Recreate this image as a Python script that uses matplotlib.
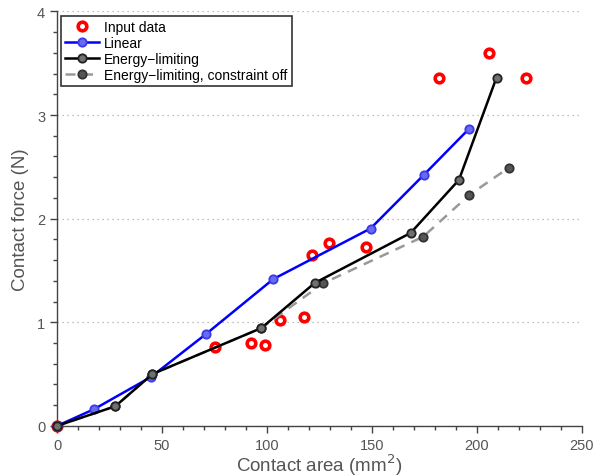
import matplotlib
matplotlib.use('Agg')
import matplotlib.pyplot as plt
from matplotlib.ticker import MultipleLocator

plt.rcParams['font.family'] = ['Liberation Sans', 'DejaVu Sans']

# Input data (red circles)
input_area = [0, 75.4, 92.4, 99.2, 106.3, 117.4, 121.4, 129.7, 147.0, 182.0, 205.7, 223.5]
input_force = [0, 0.757, 0.80, 0.78, 1.024, 1.053, 1.65, 1.765, 1.73, 3.356, 3.598, 3.362]

# Linear model
lin_area = [0, 17.6, 44.6, 71.1, 103.0, 149.3, 174.8, 196.2]
lin_force = [0, 0.161, 0.47, 0.889, 1.417, 1.905, 2.425, 2.867]

# Energy-limiting
el_area = [0, 27.8, 45.4, 97.3, 122.7, 168.4, 191.4, 209.3]
el_force = [0, 0.19, 0.50, 0.944, 1.379, 1.862, 2.374, 3.362]

# Energy-limiting, constraint off
off_area = [0, 27.8, 45.4, 97.3, 126.7, 174.4, 196.2, 215.2]
off_force = [0, 0.19, 0.50, 0.944, 1.376, 1.826, 2.226, 2.493]

txt_col = '#555555'

fig = plt.figure(figsize=(6, 4.77), dpi=100)
ax = fig.add_axes([0.095, 0.105, 0.875, 0.869])

ax.plot(input_area, input_force, 'o', color='red', markerfacecolor='white',
        markeredgewidth=2.6, markersize=6.2, zorder=1, clip_on=False, label='Input data')
ax.plot(lin_area, lin_force, '-o', color='blue', linewidth=1.8,
        markerfacecolor='#6a6af0', markeredgecolor='#3a3ae8', markeredgewidth=1.3,
        markersize=6, zorder=3, clip_on=False, label='Linear')
ax.plot(off_area, off_force, '--o', color='#999999', linewidth=1.8, dashes=(4, 3),
        markerfacecolor='#555555', markeredgecolor='#333333', markeredgewidth=1.3,
        markersize=6, zorder=2, clip_on=False, label='Energy\u2212limiting, constraint off')
ax.plot(el_area, el_force, '-o', color='black', linewidth=1.8,
        markerfacecolor='#707070', markeredgecolor='#222222', markeredgewidth=1.3,
        markersize=6, zorder=4, clip_on=False, label='Energy\u2212limiting')

ax.set_xlim(0, 250)
ax.set_ylim(0, 4)
ax.xaxis.set_major_locator(MultipleLocator(50))
ax.xaxis.set_minor_locator(MultipleLocator(10))
ax.yaxis.set_major_locator(MultipleLocator(1))
ax.yaxis.set_minor_locator(MultipleLocator(0.2))

ax.spines['top'].set_visible(False)
ax.spines['right'].set_visible(False)
for s in ['left', 'bottom']:
    ax.spines[s].set_color('#444444')
    ax.spines[s].set_linewidth(1.0)

ax.tick_params(which='major', direction='out', length=5, width=1, colors='#444444',
               labelcolor=txt_col, labelsize=10.5)
ax.tick_params(which='minor', direction='out', length=3, width=1, colors='#444444')
ax.yaxis.grid(True, which='major', linestyle=(0, (1, 3)), color='#aaaaaa', linewidth=0.9)
ax.set_axisbelow(True)

ax.set_xlabel('Contact area (mm$^2$)', fontsize=13.5, color=txt_col, labelpad=0)
ax.set_ylabel('Contact force (N)', fontsize=13.5, color=txt_col, labelpad=6)

handles, labels = ax.get_legend_handles_labels()
order = [0, 1, 3, 2]
leg = ax.legend([handles[i] for i in order], [labels[i] for i in order],
                loc='upper left', fontsize=10, frameon=True, fancybox=False,
                edgecolor='black', borderpad=0.3, labelspacing=0.15,
                handlelength=2.4, handletextpad=0.4, borderaxespad=0.3)
leg.get_frame().set_linewidth(1.2)

fig.savefig('out.png', dpi=100)
